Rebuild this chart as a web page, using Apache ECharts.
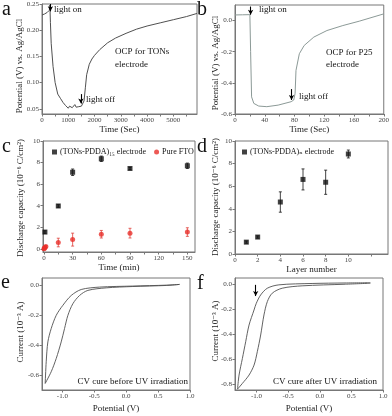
<!DOCTYPE html>
<html>
<head>
<meta charset="utf-8">
<script src="https://cdn.jsdelivr.net/npm/echarts@6/dist/echarts.min.js"></script>
<style>
  html, body { margin: 0; padding: 0; background: #fff; }
  #chart { width: 392px; height: 416px; }
</style>
</head>
<body>
<div id="chart"></div>
<script>
// a: OCP for TONs electrode [time s, potential V]
const ocpTONs = [
  [0, 0.229], [100, 0.231], [200, 0.234], [280, 0.238], [300, 0.248], [320, 0.215],
  [350, 0.175], [420, 0.131], [500, 0.1], [600, 0.078], [700, 0.07], [800, 0.062],
  [900, 0.056], [1000, 0.051], [1050, 0.055], [1100, 0.057], [1150, 0.052], [1200, 0.055],
  [1250, 0.058], [1300, 0.053], [1350, 0.056], [1400, 0.054], [1450, 0.057], [1500, 0.055],
  [1550, 0.058], [1600, 0.065], [1650, 0.09], [1700, 0.115], [1800, 0.135], [1900, 0.145],
  [2000, 0.152], [2200, 0.163], [2500, 0.176], [2800, 0.185], [3200, 0.194], [3600, 0.202],
  [4000, 0.208], [4500, 0.214], [5000, 0.22], [5500, 0.226], [5900, 0.232]
];
// b: OCP for P25 electrode
const ocpP25 = [
  [0, 0.036], [10, 0.037], [20, 0.038], [21, -0.2], [22.3, -0.49], [25.3, -0.532],
  [31.9, -0.549], [42.8, -0.553], [58, -0.543], [75.5, -0.521], [79, -0.51], [80.8, -0.468],
  [82, -0.32], [86.5, -0.213], [93, -0.16], [106, -0.106], [123.6, -0.064], [145, -0.032],
  [167, -0.004], [200, 0.043]
];
// c: discharge capacity vs time [min, value, error]
const capTONs = [[1, 1.55, 0.12], [15, 3.97, 0.12], [30, 7.1, 0.3], [60, 8.35, 0.25], [90, 7.45, 0.1], [150, 7.7, 0.25]];
const capFTO = [[0, 0, 0.05], [0.5, 0.05, 0.05], [1, 0.12, 0.1], [2, 0.2, 0.1], [15, 0.58, 0.4], [30, 0.85, 0.6], [60, 1.35, 0.35], [90, 1.45, 0.45], [150, 1.55, 0.4]];
// d: discharge capacity vs layer number
const capLayers = [[1, 1.05, 0.1], [2, 1.5, 0.1], [4, 4.6, 0.9], [6, 6.6, 0.93], [8, 6.35, 1.07], [10, 8.85, 0.35]];
// e, f: CV loops [potential V, current]
const cvBefore = [
  [0.836, 0.007], [0.627, 0.002], [0.104, -0.004], [-0.418, -0.011], [-0.705, -0.027], [-0.862, -0.067],
  [-0.993, -0.133], [-1.097, -0.2], [-1.176, -0.289], [-1.228, -0.378], [-1.254, -0.511], [-1.27, -0.656],
  [-1.176, -0.578], [-1.097, -0.489], [-1.019, -0.378], [-0.967, -0.289], [-0.914, -0.2], [-0.836, -0.122],
  [-0.731, -0.067], [-0.601, -0.033], [-0.313, -0.016], [0.104, -0.007], [0.627, 0], [0.836, 0.007]
];
const cvAfter = [
  [0.8, 0.012], [0.4, 0.01], [-0.121, 0.006], [-0.646, -0.005], [-0.829, -0.032], [-0.934, -0.086],
  [-1.003, -0.153], [-1.039, -0.207], [-1.118, -0.328], [-1.171, -0.462], [-1.223, -0.596], [-1.276, -0.73],
  [-1.3, -0.843], [-1.223, -0.797], [-1.118, -0.73], [-1.039, -0.65], [-0.987, -0.542], [-0.934, -0.408],
  [-0.882, -0.247], [-0.829, -0.14], [-0.751, -0.072], [-0.593, -0.032], [-0.278, -0.013], [0.404, 0], [0.8, 0.008]
];
// tick labels
const ticksATime = [0, 1000, 2000, 3000, 4000, 5000];
const ticksAPot = [0.05, 0.10, 0.15, 0.20, 0.25];
const ticksBTime = [0, 40, 80, 120, 160, 200];
const ticksBPot = [-0.6, -0.4, -0.2, 0.0];
const ticksCTime = [0, 30, 60, 90, 120, 150];
const ticksCap = [0, 2, 4, 6, 8, 10];
const ticksLayer = [0, 2, 4, 6, 8, 10];
const ticksCVPot = [-1.0, -0.5, 0.0, 0.5, 1.0];
const ticksECur = [-0.6, -0.4, -0.2, 0.0];
const ticksFCur = [-0.8, -0.6, -0.4, -0.2, 0.0];

const serif = "'Liberation Serif', 'DejaVu Serif', serif";
const axisGrey = '#777';

function axis(grid, min, max, labels, ticks, digits, name, nameGap) {
  return {
    type: 'value', gridIndex: grid, min: min, max: max,
    name: name, nameLocation: 'middle', nameGap: nameGap,
    nameTextStyle: { fontFamily: serif, fontSize: 9, color: '#222' },
    axisLine: { show: true, onZero: false, lineStyle: { color: axisGrey, width: 1 } },
    axisTick: { show: true, length: 2.5, customValues: ticks, lineStyle: { color: axisGrey } },
    axisLabel: {
      customValues: labels, fontFamily: serif, fontSize: 7, color: '#444', margin: 3,
      formatter: v => digits == null ? String(v) : v.toFixed(digits)
    },
    splitLine: { show: false }
  };
}

function errorBars(xi, yi, data, color) {
  return {
    type: 'custom', xAxisIndex: xi, yAxisIndex: yi, data: data, z: 1, silent: true,
    encode: { x: 0, y: 1 },
    renderItem: (params, api) => {
      const x = api.value(0), y = api.value(1), e = api.value(2);
      const t = api.coord([x, y + e]), b = api.coord([x, y - e]);
      const st = { stroke: color, lineWidth: 0.8 };
      return {
        type: 'group', children: [
          { type: 'line', shape: { x1: t[0], y1: t[1], x2: b[0], y2: b[1] }, style: st },
          { type: 'line', shape: { x1: t[0] - 1.5, y1: t[1], x2: t[0] + 1.5, y2: t[1] }, style: st },
          { type: 'line', shape: { x1: b[0] - 1.5, y1: b[1], x2: b[0] + 1.5, y2: b[1] }, style: st }
        ]
      };
    }
  };
}

function arrow(from, to) {
  return [{ coord: from }, { coord: to }];
}
const arrowStyle = {
  silent: true, symbol: ['none', 'arrow'], symbolSize: [4, 5],
  label: { show: false }, lineStyle: { color: '#000', width: 1.1, type: 'solid' }
};

function txt(x, y, text, size, align) {
  return {
    type: 'text', x: x, y: y, silent: true,
    style: { text: text, fontFamily: serif, fontSize: size, fill: '#111', align: align || 'left', verticalAlign: 'middle' }
  };
}
// rotated y-axis title
function ytitle(x, y, text) {
  return {
    type: 'text', x: x, y: y, rotation: Math.PI / 2, silent: true,
    style: { text: text, fontFamily: serif, fontSize: 9, fill: '#222', align: 'center', verticalAlign: 'middle' }
  };
}

const chart = echarts.init(document.getElementById('chart'));
chart.setOption({
  animation: false,
  backgroundColor: '#fff',
  grid: [
    { left: 42, top: 4, width: 155, height: 110, show: true, borderColor: axisGrey, borderWidth: 1 },
    { left: 235, top: 5, width: 153, height: 109, show: true, borderColor: axisGrey, borderWidth: 1 },
    { left: 43, top: 141, width: 152, height: 111, show: true, borderColor: axisGrey, borderWidth: 1 },
    { left: 235, top: 141, width: 153, height: 113, show: true, borderColor: axisGrey, borderWidth: 1 },
    { left: 42, top: 278, width: 148, height: 112, show: true, borderColor: axisGrey, borderWidth: 1 },
    { left: 235, top: 278, width: 148, height: 112, show: true, borderColor: axisGrey, borderWidth: 1 }
  ],
  xAxis: [
    axis(0, 0, 5900, ticksATime, [0, 500, 1000, 1500, 2000, 2500, 3000, 3500, 4000, 4500, 5000, 5500], null, 'Time (Sec)', 11),
    axis(1, 0, 200, ticksBTime, [0, 20, 40, 60, 80, 100, 120, 140, 160, 180, 200], null, 'Time (Sec)', 11),
    axis(2, -1, 158, ticksCTime, [0, 15, 30, 45, 60, 75, 90, 105, 120, 135, 150], null, 'Time (min)', 11),
    axis(3, 0, 13.5, ticksLayer, [0, 2, 4, 6, 8, 10, 12], null, 'Layer number', 11),
    axis(4, -1.32, 1.0, ticksCVPot, ticksCVPot, 1, 'Potential (V)', 14),
    axis(5, -1.34, 1.0, ticksCVPot, ticksCVPot, 1, 'Potential (V)', 14)
  ],
  yAxis: [
    axis(0, 0.04, 0.25, ticksAPot, ticksAPot, 2, '', 0),
    axis(1, -0.6, 0.1, ticksBPot, ticksBPot, 1, '', 0),
    axis(2, -0.3, 10, ticksCap, ticksCap, null, '', 0),
    axis(3, 0, 10, ticksCap, ticksCap, null, '', 0),
    axis(4, -0.7, 0.05, ticksECur, ticksECur, 1, '', 0),
    axis(5, -0.85, 0.05, ticksFCur, ticksFCur, 1, '', 0)
  ],
  legend: [
    {
      left: 47, top: 143, itemWidth: 5, itemHeight: 5, itemGap: 8, selectedMode: false,
      textStyle: { fontFamily: serif, fontSize: 8, color: '#111', padding: [0, 0, 0, -2] },
      data: [{ name: '(TONs-PDDA)₁₅ electrode', icon: 'rect' }, { name: 'Pure FTO', icon: 'circle' }]
    },
    {
      left: 237, top: 143, itemWidth: 5, itemHeight: 5, selectedMode: false,
      textStyle: { fontFamily: serif, fontSize: 8, color: '#111', padding: [0, 0, 0, -2] },
      data: [{ name: '(TONs-PDDA)ₙ electrode', icon: 'rect' }]
    }
  ],
  series: [
    {
      type: 'line', xAxisIndex: 0, yAxisIndex: 0, data: ocpTONs, showSymbol: false,
      lineStyle: { color: '#505050', width: 1 },
      markLine: Object.assign({ data: [arrow([320, 0.25], [320, 0.236]), arrow([1480, 0.078], [1480, 0.06])] }, arrowStyle)
    },
    {
      type: 'line', xAxisIndex: 1, yAxisIndex: 1, data: ocpP25, showSymbol: false,
      lineStyle: { color: '#8c9a97', width: 1 },
      markLine: Object.assign({ data: [arrow([21, 0.09], [21, 0.038]), arrow([76, -0.44], [76, -0.51])] }, arrowStyle)
    },
    errorBars(2, 2, capTONs, '#111'),
    errorBars(2, 2, capFTO, '#e0403a'),
    {
      name: '(TONs-PDDA)₁₅ electrode', type: 'scatter', xAxisIndex: 2, yAxisIndex: 2, z: 3,
      data: capTONs.map(d => [d[0], d[1]]), symbol: 'rect', symbolSize: 5, itemStyle: { color: '#111' }
    },
    {
      name: 'Pure FTO', type: 'scatter', xAxisIndex: 2, yAxisIndex: 2, z: 3,
      data: capFTO.map(d => [d[0], d[1]]), symbol: 'circle', symbolSize: 5, itemStyle: { color: '#e8302a' }
    },
    errorBars(3, 3, capLayers, '#111'),
    {
      name: '(TONs-PDDA)ₙ electrode', type: 'scatter', xAxisIndex: 3, yAxisIndex: 3, z: 3,
      data: capLayers.map(d => [d[0], d[1]]), symbol: 'rect', symbolSize: 5, itemStyle: { color: '#111' }
    },
    {
      type: 'line', xAxisIndex: 4, yAxisIndex: 4, data: cvBefore, showSymbol: false, smooth: 0.3,
      lineStyle: { color: '#505050', width: 0.9 }
    },
    {
      type: 'line', xAxisIndex: 5, yAxisIndex: 5, data: cvAfter, showSymbol: false, smooth: 0.3,
      lineStyle: { color: '#505050', width: 0.9 },
      markLine: Object.assign({ data: [arrow([-1.013, -0.005], [-1.013, -0.095])] }, arrowStyle)
    }
  ],
  graphic: [
    txt(2, 10, 'a', 20), txt(197, 10, 'b', 20),
    txt(2, 147, 'c', 20), txt(197, 147, 'd', 20),
    txt(1, 283, 'e', 20), txt(197, 284, 'f', 20),
    ytitle(20, 66, 'Potential (V) vs. Ag/AgCl'),
    ytitle(216, 63, 'Potential (V) vs. Ag/AgCl'),
    ytitle(21, 198, 'Discharge capacity (10⁻⁶ C/cm²)'),
    ytitle(216, 197, 'Discharge capacity (10⁻⁶ C/cm²)'),
    ytitle(21, 332, 'Current (10⁻³ A)'),
    ytitle(216, 331, 'Current (10⁻³ A)'),
    txt(54, 10, 'light on', 9), txt(86, 100, 'light off', 9),
    txt(115, 52, 'OCP for TONs', 9), txt(115, 65, 'electrode', 9),
    txt(259, 10, 'light on', 9), txt(299, 97, 'light off', 9),
    txt(326, 53, 'OCP for P25', 9), txt(326, 65, 'electrode', 9),
    txt(188, 382, 'CV cure before UV irradiation', 9, 'right'),
    txt(377, 382, 'CV cure after UV irradiation', 9, 'right')
  ]
});
</script>
</body>
</html>
